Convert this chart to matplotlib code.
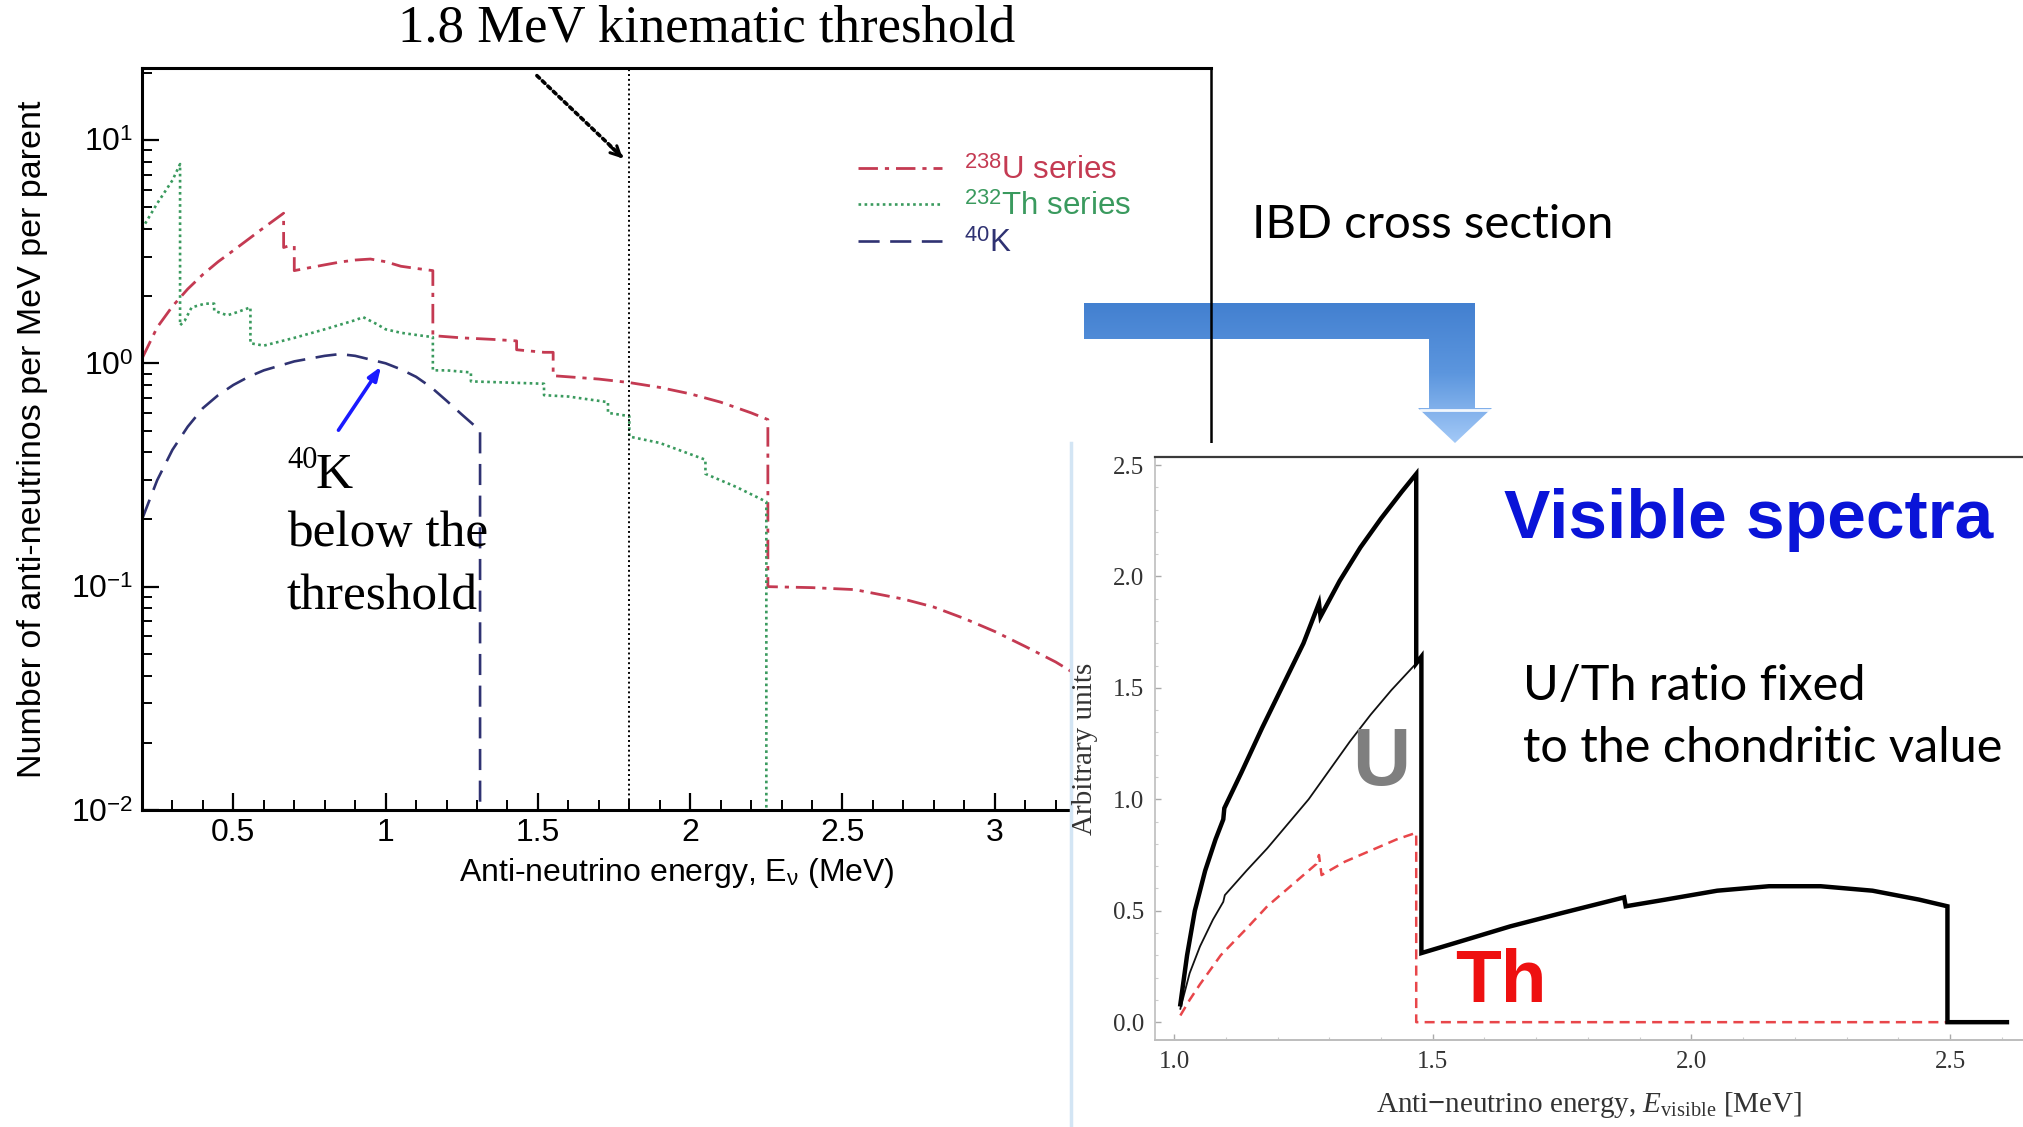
import numpy as np
import matplotlib
matplotlib.use("Agg")
import matplotlib.pyplot as plt
from matplotlib.patches import Polygon
from matplotlib.colors import LinearSegmentedColormap
from matplotlib.ticker import FixedLocator, MultipleLocator, NullFormatter, LogLocator

plt.rcParams['mathtext.fontset'] = 'custom'
plt.rcParams['mathtext.rm'] = 'Liberation Sans'
plt.rcParams['mathtext.it'] = 'Liberation Serif:italic'
plt.rcParams['mathtext.sf'] = 'Liberation Sans'
plt.rcParams['mathtext.bf'] = 'Liberation Sans:bold'

W, H = 2024, 1127

# ---------------- emitted anti-neutrino spectra (per MeV per parent) ----------------
u_energy = [0.20, 0.25, 0.30, 0.35, 0.40, 0.45, 0.50, 0.55, 0.60, 0.665, 0.665, 0.68, 0.70, 0.70,
            0.75, 0.80, 0.85, 0.90, 0.95, 1.00, 1.05, 1.10, 1.155, 1.155, 1.25, 1.35, 1.43, 1.43,
            1.52, 1.55, 1.55, 1.60, 1.70, 1.80, 1.90, 2.00, 2.10, 2.20, 2.255, 2.255, 2.40, 2.54,
            2.70, 2.80, 2.90, 3.00, 3.10, 3.20, 3.30, 3.40]
u_flux = [1.05, 1.45, 1.80, 2.15, 2.50, 2.85, 3.20, 3.60, 4.05, 4.70, 3.30, 3.35, 3.35, 2.60,
          2.68, 2.76, 2.84, 2.90, 2.93, 2.85, 2.72, 2.66, 2.60, 1.33, 1.30, 1.28, 1.26, 1.15,
          1.12, 1.12, 0.88, 0.87, 0.85, 0.82, 0.78, 0.73, 0.67, 0.60, 0.56, 0.100, 0.099, 0.097,
          0.088, 0.081, 0.072, 0.063, 0.054, 0.046, 0.038, 0.030]

th_energy = [0.20, 0.25, 0.30, 0.325, 0.325, 0.34, 0.363, 0.407, 0.437, 0.437, 0.48, 0.51, 0.556,
             0.556, 0.60, 0.70, 0.80, 0.90, 0.926, 0.97, 1.00, 1.05, 1.10, 1.155, 1.155, 1.20,
             1.28, 1.28, 1.40, 1.52, 1.52, 1.60, 1.73, 1.73, 1.80, 1.80, 1.90, 2.05, 2.05, 2.15,
             2.25, 2.25]
th_flux = [4.0, 5.2, 6.6, 7.8, 1.48, 1.55, 1.78, 1.85, 1.85, 1.72, 1.64, 1.69, 1.78,
           1.23, 1.20, 1.30, 1.42, 1.56, 1.61, 1.50, 1.42, 1.37, 1.34, 1.31, 0.93, 0.93,
           0.91, 0.83, 0.82, 0.81, 0.72, 0.71, 0.67, 0.60, 0.58, 0.47, 0.44, 0.37, 0.32, 0.28,
           0.24, 0.005]

k_energy = [0.20, 0.25, 0.30, 0.35, 0.40, 0.45, 0.50, 0.55, 0.60, 0.70, 0.80, 0.85, 0.90, 1.00,
            1.05, 1.10, 1.15, 1.20, 1.25, 1.31, 1.31]
k_flux = [0.20, 0.30, 0.41, 0.52, 0.63, 0.72, 0.80, 0.87, 0.93, 1.02, 1.08, 1.10, 1.08, 1.00,
          0.94, 0.87, 0.78, 0.68, 0.59, 0.50, 0.005]

threshold_mev = 1.8
x_ticks_left = [0.5, 1, 1.5, 2, 2.5, 3]
x_ticklabels_left = ['0.5', '1', '1.5', '2', '2.5', '3']
y_ticks_left = [1e-2, 1e-1, 1e0, 1e1]
y_ticklabels_left = [r'$10^{-2}$', r'$10^{-1}$', r'$10^{0}$', r'$10^{1}$']

# ---------------- visible spectra after IBD cross section ----------------
vis_energy_total = [1.012, 1.025, 1.04, 1.06, 1.08, 1.095, 1.097, 1.13, 1.17, 1.21, 1.25, 1.28,
                    1.283, 1.32, 1.36, 1.40, 1.44, 1.468, 1.468, 1.478, 1.478, 1.55, 1.65, 1.75,
                    1.87, 1.873, 1.95, 2.05, 2.15, 2.25, 2.35, 2.44, 2.495, 2.495, 2.61]
vis_total = [0.08, 0.30, 0.50, 0.68, 0.82, 0.91, 0.96, 1.12, 1.32, 1.51, 1.70, 1.88,
             1.82, 1.98, 2.13, 2.26, 2.38, 2.46, 1.61, 1.64, 0.31, 0.36, 0.43, 0.49,
             0.56, 0.52, 0.55, 0.59, 0.61, 0.61, 0.59, 0.55, 0.52, 0.0, 0.0]

vis_energy_u = [1.012, 1.03, 1.05, 1.075, 1.095, 1.098, 1.14, 1.18, 1.22, 1.26, 1.30, 1.34,
                1.38, 1.42, 1.46, 1.468]
vis_u = [0.06, 0.22, 0.34, 0.46, 0.54, 0.57, 0.68, 0.78, 0.89, 1.00, 1.13, 1.26,
         1.38, 1.49, 1.59, 1.61]

vis_energy_th = [1.012, 1.03, 1.05, 1.09, 1.14, 1.18, 1.23, 1.275, 1.28, 1.285, 1.33, 1.38,
                 1.43, 1.468, 1.468, 2.495]
vis_th = [0.03, 0.10, 0.17, 0.30, 0.42, 0.52, 0.62, 0.71, 0.75, 0.66, 0.72, 0.77,
          0.82, 0.85, 0.0, 0.0]

x_ticks_vis = [1.0, 1.5, 2.0, 2.5]
y_ticks_vis = [0.0, 0.5, 1.0, 1.5, 2.0, 2.5]

U_COL = '#c43a52'
TH_COL = '#3a9a5e'
K_COL = '#2f3272'


def fx(px):
    return px / W


def fy(py):
    return 1 - py / H


fig = plt.figure(figsize=(W / 100, H / 100), dpi=100)
fig.patch.set_facecolor('white')

# ---------- background layer: elbow arrow pointing to the visible spectra ----------
bg = fig.add_axes([0, 0, 1, 1], zorder=0)
bg.axis('off')
arrow_pts = [(1084, 303), (1475, 303), (1475, 408), (1492, 408), (1455, 443),
             (1418, 408), (1429, 408), (1429, 339), (1084, 339)]
arrow_poly = Polygon(arrow_pts, closed=True, facecolor='none', edgecolor='none')
bg.add_patch(arrow_poly)
grad = np.linspace(0, 1, 256).reshape(-1, 1)
blue_cmap = LinearSegmentedColormap.from_list('arrowblue', ['#4380d0', '#5c96de', '#a3c9f7'])
img = bg.imshow(grad, cmap=blue_cmap, extent=(1084, 1492, 443, 303), aspect='auto',
                interpolation='bilinear')
img.set_clip_path(arrow_poly)
bg.plot([1421, 1489], [410, 410], color='white', lw=2.0, alpha=0.9)
bg.set_xlim(0, W)
bg.set_ylim(H, 0)

# ---------- left panel: spectra per parent ----------
ax1 = fig.add_axes([fx(142), fy(810), fx(1211) - fx(142), fy(68) - fy(810)], zorder=1)
ax1.patch.set_visible(False)
ax1.set_yscale('log')
ax1.set_xlim(0.2, 3.71)
ax1.set_ylim(1e-2, 21)

ax1.plot(u_energy, u_flux, color=U_COL, lw=2.0, ls=(0, (7, 2.5, 1.5, 2.5)), label=r'$^{238}$U series')
ax1.plot(th_energy, th_flux, color=TH_COL, lw=1.9, ls=(0, (1, 1.3)), label=r'$^{232}$Th series')
ax1.plot(k_energy, k_flux, color=K_COL, lw=1.9, ls=(0, (8, 4)), label=r'$^{40}$K')
ax1.axvline(threshold_mev, color='black', lw=1.4, ls=(0, (1, 1.5)))

for side in ['left', 'bottom', 'top', 'right']:
    ax1.spines[side].set_linewidth(2.2)
ax1.spines['right'].set_linewidth(1.8)

ax1.xaxis.set_major_locator(FixedLocator(x_ticks_left))
ax1.set_xticklabels(x_ticklabels_left)
ax1.xaxis.set_minor_locator(MultipleLocator(0.1))
ax1.yaxis.set_major_locator(FixedLocator(y_ticks_left))
ax1.set_yticklabels(y_ticklabels_left)
ax1.yaxis.set_minor_locator(LogLocator(base=10, subs=np.arange(2, 10)))
ax1.yaxis.set_minor_formatter(NullFormatter())
ax1.tick_params(which='major', direction='in', length=12, width=1.6, labelsize=23, pad=6)
ax1.tick_params(which='minor', direction='in', length=7, width=1.4)
ax1.tick_params(top=False, right=False)
for lab in ax1.get_xticklabels() + ax1.get_yticklabels():
    lab.set_fontfamily('Liberation Sans')

ax1.set_xlabel(r'Anti-neutrino energy, E$_{\mathregular{ν}}$ (MeV)', fontsize=23,
               fontfamily='Liberation Sans')
ax1.xaxis.set_label_coords(0.5, -0.062)
ax1.set_ylabel('Number of anti-neutrinos per MeV per parent', fontsize=24.5,
               fontfamily='Liberation Sans')
ax1.yaxis.set_label_coords(-0.088, 0.5)

leg = ax1.legend(loc='upper left', bbox_to_anchor=(0.670, 0.882), frameon=False,
                 borderpad=0, borderaxespad=0,
                 handlelength=2.67, handletextpad=0.73, labelspacing=0.22,
                 prop={'family': 'Liberation Sans', 'size': 22.5}, labelcolor='linecolor')

# threshold arrow (dotted shaft + head)
ax1.annotate('', xy=(1.78, 8.3), xytext=(1.49, 19.8),
             arrowprops=dict(arrowstyle='-', color='black', lw=2.6, ls=(0, (1, 1.1))))
ax1.annotate('', xy=(1.785, 8.1), xytext=(1.73, 9.6),
             arrowprops=dict(arrowstyle='->,head_length=0.7,head_width=0.35', color='black', lw=2.2))

# arrow pointing at the 40K spectrum
ax1.annotate('', xy=(0.99, 0.99), xytext=(0.84, 0.49),
             arrowprops=dict(arrowstyle='-|>,head_length=0.8,head_width=0.3', color='#1a1aff', lw=2.6))

# ---------- inset panel with the visible spectra ----------
panel = fig.add_axes([fx(1071), 0, 1 - fx(1071), fy(443)], zorder=2)
panel.set_facecolor('white')
panel.set_xticks([])
panel.set_yticks([])
for side in ['top', 'right', 'bottom']:
    panel.spines[side].set_visible(False)
panel.spines['left'].set_color('#d3e5f4')
panel.spines['left'].set_linewidth(2.5)

ax2 = fig.add_axes([fx(1155), fy(1040), 1 - fx(1155), fy(457) - fy(1040)], zorder=3)
ax2.patch.set_visible(False)
ax2.set_xlim(0.963, 2.643)
ax2.set_ylim(-0.08, 2.536)
ax2.plot(vis_energy_th, vis_th, color='#e8464a', lw=1.8, ls=(0, (4, 2.5)))
ax2.plot(vis_energy_u, vis_u, color='#111111', lw=1.3)
ax2.plot(vis_energy_total, vis_total, color='black', lw=3.2, solid_joinstyle='miter')

ax2.spines['right'].set_visible(False)
ax2.spines['left'].set_color('#bdbdbd')
ax2.spines['bottom'].set_color('#bdbdbd')
ax2.spines['left'].set_linewidth(1.2)
ax2.spines['bottom'].set_linewidth(1.4)
ax2.spines['top'].set_color('#3a3a3a')
ax2.spines['top'].set_linewidth(1.6)
ax2.xaxis.set_major_locator(FixedLocator(x_ticks_vis))
ax2.yaxis.set_major_locator(FixedLocator(y_ticks_vis))
ax2.set_xticklabels(['%.1f' % v for v in x_ticks_vis])
ax2.set_yticklabels(['%.1f' % v for v in y_ticks_vis])
ax2.xaxis.set_minor_locator(MultipleLocator(0.1))
ax2.yaxis.set_minor_locator(MultipleLocator(0.1))
ax2.tick_params(which='major', direction='in', length=4, width=1, color='#aaaaaa',
                labelsize=18, labelcolor='#333333', pad=8)
ax2.tick_params(which='minor', direction='in', length=2, width=0.8, color='#cccccc')
for lab in ax2.get_xticklabels() + ax2.get_yticklabels():
    lab.set_fontfamily('Liberation Serif')
ax2.set_xlabel(r'Anti$-$neutrino energy, $E_{\mathregular{visible}}$ [MeV]', fontsize=21,
               fontfamily='Liberation Serif', color='#333333')
ax2.xaxis.set_label_coords(0.5, -0.085)
ax2.set_ylabel('Arbitrary units', fontsize=21, fontfamily='Liberation Serif', color='#333333')
ax2.yaxis.set_label_coords(-0.066, 0.5)

# ---------- annotations ----------
fig.text(fx(707), fy(28), '1.8 MeV kinematic threshold', fontsize=38, family='Liberation Serif',
         ha='center', va='center')
fig.text(fx(287), fy(460), '40', fontsize=22, family='Liberation Serif', ha='left', va='center')
fig.text(fx(316), fy(476), 'K', fontsize=37, family='Liberation Serif', ha='left', va='center')
fig.text(fx(287), fy(534), 'below the', fontsize=37, family='Liberation Serif', ha='left', va='center')
fig.text(fx(287), fy(597), 'threshold', fontsize=37, family='Liberation Serif', ha='left', va='center')

fig.text(fx(1252), fy(225), 'IBD cross section', fontsize=34, family='Lato', ha='left', va='center')

fig.text(fx(1749), fy(520), 'Visible spectra', fontsize=50, family='Liberation Sans',
         weight='bold', color='#0a14d8', ha='center', va='center', zorder=10)
fig.text(fx(1523), fy(686), 'U/Th ratio fixed', fontsize=35, family='Lato', ha='left',
         va='center', zorder=10)
fig.text(fx(1523), fy(748), 'to the chondritic value', fontsize=35, family='Lato', ha='left',
         va='center', zorder=10)
fig.text(fx(1381), fy(764), 'U', fontsize=58, family='Liberation Sans', weight='bold',
         color='#7f7f7f', ha='center', va='center', zorder=10)
fig.text(fx(1501), fy(983), 'Th', fontsize=54, family='Liberation Sans', weight='bold',
         color='#ee1010', ha='center', va='center', zorder=10)

fig.savefig('out.png', dpi=100)
